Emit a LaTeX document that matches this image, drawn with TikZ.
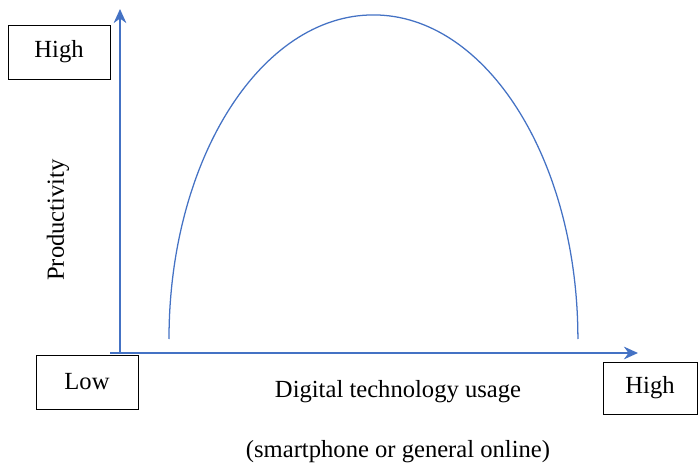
\documentclass[tikz,border=0pt]{standalone}
\usepackage{fontspec}
\setmainfont{Liberation Serif}
\usepackage{xcolor}
\usetikzlibrary{arrows.meta, positioning}
\definecolor{axisblue}{RGB}{68,114,196}

\begin{document}
\begin{tikzpicture}[
  x=0.025cm, y=-0.025cm,
  >=Stealth,
  box/.style={draw=black, thin, fill=white, minimum width=2.55cm,
              minimum height=1.35cm, font=\fontsize{17.5}{21}\selectfont,
              inner sep=0pt},
  lbl/.style={font=\fontsize{17.5}{21}\selectfont, inner sep=0pt},
  arr/.style={draw=axisblue, line width=1.1pt, -{Stealth[length=10pt,width=9pt]}}
]
  \useasboundingbox (0,0) rectangle (699,466);
  % axes
  \coordinate (origin) at (120,353);
  \coordinate (ytip) at (120,9);
  \coordinate (xstart) at (110,353);
  \coordinate (xtip) at (638,353);
  \draw[arr] (origin) -- (ytip);
  \draw[arr] (xstart) -- (xtip);
  % productivity curve
  \draw[axisblue, line width=0.9pt] (169,339)
    arc[start angle=180, end angle=0, x radius=5.11cm, y radius=8.1cm];
  % level boxes
  \node[box] (highy) at (59,52) {High};
  \node[box] (low) at (87,382) {Low};
  \node[box, minimum width=2.35cm, minimum height=1.3cm] (highx) at (650,388) {High};
  % axis labels
  \node[lbl, rotate=90] (ylabel) at (58,220) {Productivity};
  \node[lbl] (xlabel) at (398,392) {Digital technology usage};
  \node[lbl] (xnote) at (398,452) {(smartphone or general online)};
\end{tikzpicture}
\end{document}
